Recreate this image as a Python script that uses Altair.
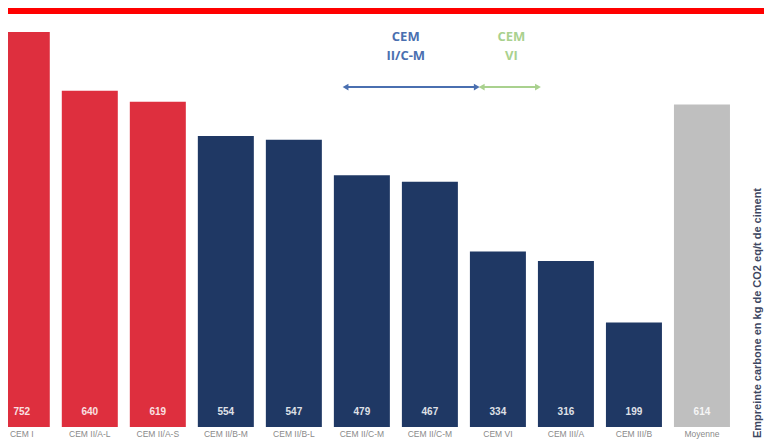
import altair as alt
import pandas as pd

categories = ["CEM I", "CEM II/A-L", "CEM II/A-S", "CEM II/B-M", "CEM II/B-L",
              "CEM II/C-M", "CEM II/C-M", "CEM VI", "CEM III/A", "CEM III/B", "Moyenne"]
values = [752, 640, 619, 554, 547, 479, 467, 334, 316, 199, 614]
bar_colors = ["#de2f3e"] * 3 + ["#1f3864"] * 7 + ["#bfbfbf"]

ann_text = ["CEM", "II/C-M", "CEM", "VI"]
ann_x = [5.645, 5.645, 7.197, 7.197]
ann_y = [742, 706, 742, 706]
ann_col = ["#4a6fb0", "#4a6fb0", "#a9d18e", "#a9d18e"]

arrow_start = [4.760, 6.762]
arrow_end = [6.689, 7.589]
arrow_y = [647, 647]
arrow_col = ["#4a6fb0", "#a9d18e"]

axis_title = "Empreinte carbone en kg de CO2 eq/t de ciment"

df = pd.DataFrame({"idx": list(range(len(values))), "cat": categories,
                   "val": values, "col": bar_colors, "base": [0] * len(values)})
ann = pd.DataFrame({"x": ann_x, "y": ann_y, "t": ann_text, "c": ann_col})
arr = pd.DataFrame({"x1": arrow_start, "x2": arrow_end, "y": arrow_y, "c": arrow_col})

xs = alt.Scale(domain=[-0.1291, 10.8386], nice=False, zero=False)
ys = alt.Scale(domain=[-24.75, 797.6], nice=False, zero=False)

bars = alt.Chart(df).mark_bar(size=56, clip=True).encode(
    x=alt.X("idx:Q", scale=xs, axis=None),
    y=alt.Y("val:Q", scale=ys, axis=None),
    y2="base:Q",
    color=alt.Color("col:N", scale=None),
)

vals = alt.Chart(df).mark_text(dy=-15, color="white", opacity=0.85, fontWeight="bold",
                               fontSize=10, font="Liberation Sans", clip=True).encode(
    x=alt.X("idx:Q", scale=xs), y=alt.Y("base:Q", scale=ys), text="val:Q")

cats = alt.Chart(df).mark_text(dy=3, baseline="top", color="#8a8a8a", fontSize=8.5,
                               font="Liberation Sans").encode(
    x=alt.X("idx:Q", scale=xs), y=alt.Y("base:Q", scale=ys), text="cat:N")

anns = alt.Chart(ann).mark_text(fontSize=13, fontWeight="bold", font="Open Sans").encode(
    x=alt.X("x:Q", scale=xs), y=alt.Y("y:Q", scale=ys), text="t:N",
    color=alt.Color("c:N", scale=None))

arr_lines = alt.Chart(arr).mark_rule(strokeWidth=2).encode(
    x=alt.X("x1:Q", scale=xs), x2="x2:Q", y=alt.Y("y:Q", scale=ys),
    color=alt.Color("c:N", scale=None))
arr_left = alt.Chart(arr).mark_point(shape="triangle-left", filled=True, size=45, opacity=1).encode(
    x=alt.X("x1:Q", scale=xs), y=alt.Y("y:Q", scale=ys), color=alt.Color("c:N", scale=None))
arr_right = alt.Chart(arr).mark_point(shape="triangle-right", filled=True, size=45, opacity=1).encode(
    x=alt.X("x2:Q", scale=xs), y=alt.Y("y:Q", scale=ys), color=alt.Color("c:N", scale=None))

title_txt = alt.Chart(pd.DataFrame({"t": [axis_title]})).mark_text(
    angle=270, fontSize=11, fontWeight="bold", font="Liberation Sans", color="#3d4660").encode(
    x=alt.value(750), y=alt.value(305), text="t:N")

band = alt.Chart(pd.DataFrame({"a": [0]})).mark_rect(color="#ff0000").encode(
    x=alt.value(0), x2=alt.value(756), y=alt.value(0), y2=alt.value(6))

chart = alt.layer(band, bars, vals, cats, anns, arr_lines, arr_left, arr_right, title_txt).properties(
    width=756, height=432, padding=0, autosize=alt.AutoSizeParams(type="none"),
    background="white",
).configure_view(stroke=None)

chart.save("out.html", embed_options={"renderer": "svg", "actions": False})
